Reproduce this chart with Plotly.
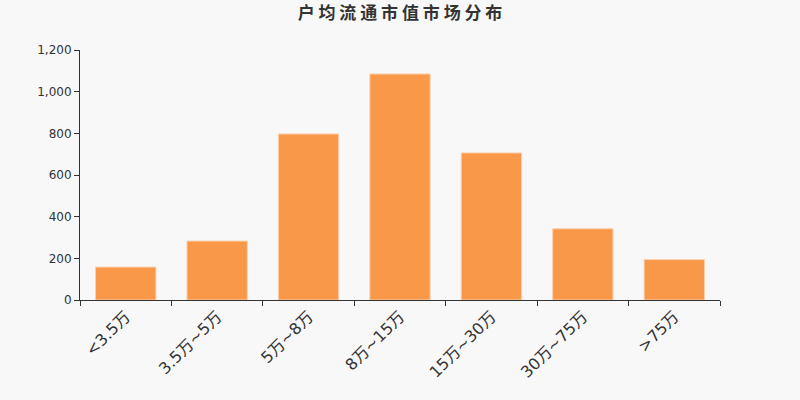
import plotly.graph_objects as go

categories = ["<3.5万", "3.5万~5万", "5万~8万", "8万~15万", "15万~30万", "30万~75万", ">75万"]
values = [158, 283, 797, 1085, 706, 342, 194]
y_ticks = [0, 200, 400, 600, 800, 1000, 1200]

fig = go.Figure(go.Bar(
    x=categories, y=values,
    marker=dict(color="#F89848", line=dict(color="#FBD0B0", width=1)),
    width=0.66,
))

fig.update_layout(
    width=800, height=400,
    margin=dict(l=80, r=80, t=50, b=100),
    paper_bgcolor="#F8F8F8", plot_bgcolor="#F8F8F8",
    title=dict(text="<b>户 均 流 通 市 值 市 场 分 布</b>", x=0.5, xanchor="center", y=0.967, yanchor="middle",
               font=dict(family="Noto Sans CJK SC", size=17, color="#333333")),
    font=dict(family="DejaVu Sans", color="#333333"),
    showlegend=False,
)
fig.update_xaxes(
    type="category", tickangle=-45, tickson="boundaries",
    ticks="outside", ticklen=5, tickcolor="#333333",
    showline=True, linecolor="#333333", linewidth=1,
    tickfont=dict(family="DejaVu Sans, Noto Sans CJK SC", size=16, color="#333333"),
    showgrid=False,
)
fig.update_yaxes(
    range=[0, 1200], tickvals=y_ticks, tickformat=",",
    ticks="outside", ticklen=5, tickcolor="#333333",
    showline=True, linecolor="#333333", linewidth=1,
    tickfont=dict(family="DejaVu Sans", size=12, color="#333333"),
    showgrid=False, zeroline=False,
)

fig.write_html("out.html", config=dict(displayModeBar=False),
               post_script="document.body.style.margin='0';")
